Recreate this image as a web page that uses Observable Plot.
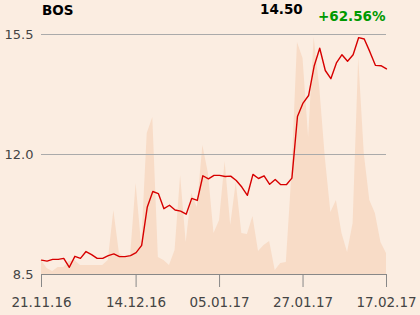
<!DOCTYPE html>
<html><head><meta charset="utf-8">
<script src="https://cdn.jsdelivr.net/npm/d3@7"></script>
<script src="https://cdn.jsdelivr.net/npm/@observablehq/plot@0.6"></script>
<style>
html,body{margin:0;padding:0;background:#FBEDE1;}
#wrap{position:relative;width:420px;height:315px;overflow:hidden;font-family:"DejaVu Sans",sans-serif;}
.t{position:absolute;font-weight:bold;font-size:13.5px;white-space:nowrap;line-height:1;}
</style></head><body><div id="wrap"></div>
<script>
const symbol = "BOS";
const lastPrice = "14.50";
const change = "+62.56%";
const prices = [8.92,8.89,8.94,8.94,8.97,8.71,9.03,8.97,9.17,9.08,8.97,8.97,9.05,9.10,9.02,9.02,9.05,9.14,9.35,10.46,
  10.92,10.86,10.42,10.52,10.38,10.35,10.26,10.72,10.66,11.38,11.29,11.39,11.39,11.36,11.37,11.24,11.05,10.81,11.42,11.30,
  11.38,11.13,11.27,11.12,11.12,11.31,13.11,13.50,13.72,14.58,15.10,14.45,14.21,14.67,14.91,14.72,14.91,15.41,15.37,15.00,
  14.60,14.59,14.50];
const volumes = [14,6,3,7,7,13,14,9,9,9,9,9,14,64,21,17,18,91,29,141,
  157,17,14,9,24,99,32,81,67,129,101,41,54,113,49,92,41,40,58,23,
  29,33,4,11,12,100,232,216,137,237,187,117,62,74,41,22,51,217,121,74,
  61,32,21];
const xTickIndex = [0,17,32,47,62];
const xTickLabels = ["21.11.16","14.12.16","05.01.17","27.01.17","17.02.17"];
const yTicks = [8.5, 12.0, 15.5];
const yMin = 8.5, yMax = 15.5, volMax = 240;

const data = prices.map((p,i)=>({i, price:p, vol:volumes[i]}));
const volY = v => yMin + v/volMax*(yMax-yMin);

const chart = Plot.plot({
  width:420, height:315,
  marginLeft:41, marginRight:34, marginTop:34, marginBottom:41,
  style:{background:"transparent", fontFamily:"DejaVu Sans, sans-serif", fontSize:"13px", color:"#444"},
  x:{domain:[0,62], label:null, axis:null},
  y:{domain:[yMin,yMax], label:null, axis:null},
  marks:[
    Plot.areaY(data,{x:"i", y1:yMin, y2:d=>volY(d.vol), fill:"#F8DCC7"}),
    Plot.gridY(yTicks,{stroke:"#aaa", strokeOpacity:1}),
    Plot.lineY(data,{x:"i", y:"price", stroke:"#D70000", strokeWidth:1.4}),
    Plot.ruleY([yMin],{stroke:"#888"}),
    Plot.axisY(yTicks,{tickSize:0, tickPadding:8, tickFormat:d=>d.toFixed(1), fill:"#444", fontSize:13, label:null}),
    Plot.axisX(xTickIndex,{tickSize:13, tickPadding:10, stroke:"#888", fill:"#444", fontSize:13.5,
      tickFormat:d=>xTickLabels[xTickIndex.indexOf(d)], label:null})
  ]
});
const wrap = document.getElementById("wrap");
wrap.appendChild(chart);
function addText(txt, left, top, color){
  const d = document.createElement("div");
  d.className = "t"; d.textContent = txt;
  d.style.left = left+"px"; d.style.top = top+"px"; d.style.color = color;
  wrap.appendChild(d);
}
addText(symbol, 42, 4, "#000");
addText(lastPrice, 260, 3, "#000");
addText(change, 318, 10, "#009900");
</script></body></html>
